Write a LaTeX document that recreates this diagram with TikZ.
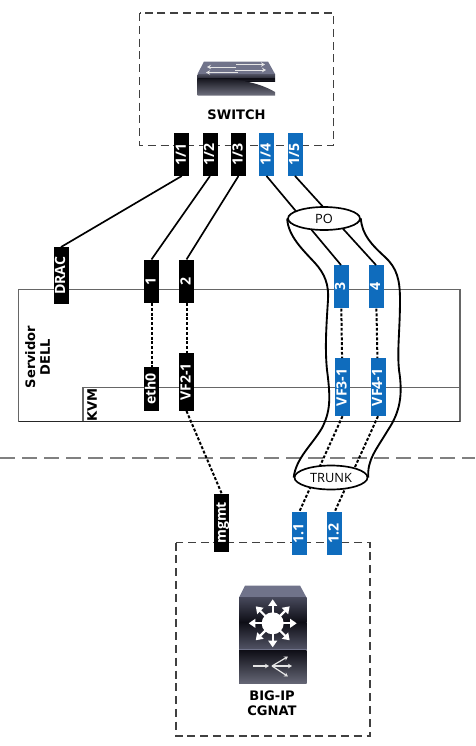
\documentclass[tikz,border=0pt]{standalone}
\usepackage{fontspec}
\setmainfont{Open Sans}
\newfontfamily\labelfont{DejaVu Sans}
\usepackage{tikz}
\usetikzlibrary{arrows.meta,positioning,calc,shapes.geometric}
\definecolor{portblue}{RGB}{15,108,189}
\definecolor{iconfront}{RGB}{50,52,72}
\definecolor{icontop}{RGB}{112,115,138}
\definecolor{icondark}{RGB}{14,14,22}
\definecolor{sepgray}{RGB}{128,128,128}
\tikzset{
  port/.style={rectangle, fill=black, text=white, minimum height=15*0.75pt, inner sep=0pt,
    text height=7.4pt, text depth=1.4pt, font=\fontsize{10.6pt}{11pt}\selectfont\bfseries, rotate=90},
  bport/.style={port, fill=portblue},
  lnk/.style={black, line width=1.25pt},
  dlnk/.style={black, line width=1.5pt, dash pattern=on 2.2pt off 1.4pt},
  zone/.style={black!75, line width=0.9pt, dash pattern=on 6pt off 3.6pt},
  srv/.style={black!60, line width=0.9pt},
  bundle/.style={ellipse, draw=black, line width=1.25pt, fill=white, inner sep=0pt, font=\fontsize{9.6pt}{10pt}\selectfont},
  tube/.style={black, line width=1.4pt},
  ttl/.style={font=\labelfont\fontsize{9.8pt}{11pt}\selectfont\bfseries, align=center},
  iarr/.style={-{Stealth[length=3pt,width=3.4pt]}, white!90!black, line width=0.7pt},
  barr/.style={-{Stealth[length=5pt,width=6.5pt,inset=0pt]}, white, line width=1.7pt},
}
\begin{document}
\begin{tikzpicture}[x=0.75pt,y=-0.75pt]
  \useasboundingbox (0,0) rectangle (475,746);
  % zones
  \draw[zone] (139.5,13) rectangle (333.5,145.5);
  \draw[zone] (176,542.5) rectangle (370,736);
  \draw[sepgray, line width=1.5pt, dash pattern=on 11pt off 5.5pt] (0,458) -- (475,458);
  \draw[srv] (18.5,289.5) rectangle (460,421.5);
  \draw[srv] (83,421.5) -- (83,387.5) -- (460,387.5);
  \draw[black!85, line width=0.9pt] (18.5,421.5) -- (460,421.5);
  \node[ttl, rotate=90] (srvlab) at (37.5,357) {Servidor\\DELL};
  \node[ttl, rotate=90] (kvmlab) at (92,405) {KVM};

  % switch ports
  \foreach \nm/\xx/\txt/\sty in {p11/181.8/1\slash 1/port, p12/210/1\slash 2/port, p13/238.5/1\slash 3/port, p14/266.5/1\slash 4/bport, p15/295/1\slash 5/bport}{
    \node[\sty, minimum width=43*0.75pt] (\nm) at (\xx,154.2) {\txt};
  }
  % server ports
  \node[port, minimum width=57*0.75pt] (drac) at (61,275.8) {DRAC};
  \node[port, minimum width=43*0.75pt] (s1) at (151.5,281.2) {1};
  \node[port, minimum width=43*0.75pt] (s2) at (186.5,281.2) {2};
  \node[bport, minimum width=43*0.75pt] (s3) at (341,286.8) {3};
  \node[bport, minimum width=43*0.75pt] (s4) at (376,286.8) {4};
  \node[port, minimum width=43.5*0.75pt] (eth) at (151.5,389) {eth0};
  \node[port, minimum width=57.5*0.75pt] (vf2) at (186.5,382) {VF2-1};
  \node[bport, minimum width=57.5*0.75pt] (vf3) at (342.5,387.2) {VF3-1};
  \node[bport, minimum width=57.5*0.75pt] (vf4) at (378,387.2) {VF4-1};
  % big-ip ports
  \node[port, minimum width=57.5*0.75pt] (mgmt) at (221.8,522.8) {mgmt};
  \node[bport, minimum width=43*0.75pt] (t1) at (299.3,533.5) {1.1};
  \node[bport, minimum width=43*0.75pt] (t2) at (334.7,533.5) {1.2};

  % links
  \draw[lnk] (p11.west) -- (drac.east);
  \draw[lnk] (p12.west) -- (s1.east);
  \draw[lnk] (p13.west) -- (s2.east);
  \draw[lnk] (p14.west) -- (s3.east);
  \draw[lnk] (p15.west) -- (s4.east);
  \draw[dlnk] (s1) -- (eth);
  \draw[dlnk] (s2) -- (vf2);
  \draw[dlnk] (s3) -- (vf3);
  \draw[dlnk] (s4) -- (vf4);
  \draw[dlnk] (vf2.west) -- (mgmt.east);
  \draw[dlnk] (vf3.west) -- (t1.east);
  \draw[dlnk] (vf4.west) -- (t2.east);

  % bundles
  \node[bundle, minimum width=72*0.75pt, minimum height=23*0.75pt] (po) at (324,218.5) {PO};
  \node[bundle, minimum width=73*0.75pt, minimum height=24*0.75pt] (trunk) at (331,477.5) {TRUNK};
  \draw[tube] (po.west) .. controls (288,236) and (303,250) .. (315,263) .. controls (325,274) and (329,285) .. (328,300)
    .. controls (326,330) and (325,350) .. (327,370) .. controls (331,400) and (330,412) .. (322,428) .. controls (312,445) and (296,458) .. (trunk.west);
  \draw[tube] (po.east) .. controls (362,235) and (372,245) .. (385,257) .. controls (397,268) and (400,280) .. (400,300)
    .. controls (400,330) and (397,350) .. (399,370) .. controls (403,395) and (400,412) .. (388,430) .. controls (376,450) and (367,460) .. (trunk.east);

  % switch icon
  \fill[icontop] (204,61.5) -- (268,61.5) -- (275,74) -- (197.5,74) -- cycle;
  \shade[top color=iconfront!85!white, bottom color=icondark] (197.5,74) rectangle (275,81);
  \fill[icondark] (197.5,78) rectangle (275,80);
  \shade[top color=icondark, bottom color=iconfront!70!white] (197.5,79) .. controls (225,77) and (255,80) .. (275,92) -- (275,95.7) -- (197.5,95.7) -- cycle;
  \draw[iarr] (236,64.5) -- (265,64.5);
  \draw[iarr] (235,70) -- (266,70);
  \draw[iarr] (236,67) -- (207,67);
  \draw[iarr] (238,72.5) -- (206,72.5);
  \node[ttl] (swlab) at (236.5,115) {SWITCH};

  % big-ip icon
  \fill[icontop] (245,585.5) -- (300,585.5) -- (306.5,597.5) -- (239,597.5) -- cycle;
  \shade[top color=iconfront!90!white, bottom color=icondark] (239,597.5) rectangle (306.5,622);
  \shade[top color=icondark, bottom color=iconfront!85!white] (239,622) rectangle (306.5,649);
  \shade[top color=icondark, bottom color=iconfront!75!white] (239,650) rectangle (306.5,683.5);
  \draw[icontop, line width=0.6pt] (239,649.5) -- (306.5,649.5);
  \fill[white] (272.7,623.3) circle (11);
  \foreach \ang in {0,45,...,315}{
    \draw[barr] ($(272.7,623.3)+(\ang:9)$) -- ($(272.7,623.3)+(\ang:24)$);
  }
  \draw[iarr, line width=0.9pt] (253,666) -- (269,666);
  \draw[iarr, line width=0.9pt] (272,666) -- (288,656.5);
  \draw[iarr, line width=0.9pt] (272,666) -- (292,666);
  \draw[iarr, line width=0.9pt] (272,666) -- (288,676.5);
  \node[ttl, inner sep=0pt] (biplab) at (272,703) {BIG-IP\\CGNAT};
\end{tikzpicture}
\end{document}
